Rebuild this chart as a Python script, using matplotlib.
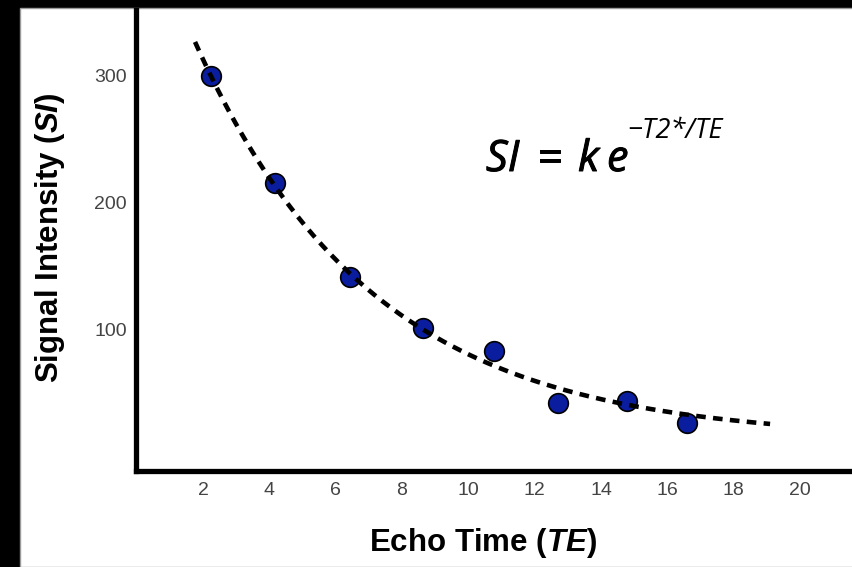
import numpy as np
import matplotlib
matplotlib.use("Agg")
import matplotlib.pyplot as plt
import matplotlib.patheffects as pe
from matplotlib.patches import Rectangle

plt.rcParams['font.family'] = ['Liberation Sans', 'DejaVu Sans']
plt.rcParams['mathtext.fontset'] = 'custom'
plt.rcParams['mathtext.it'] = 'Liberation Sans:italic:bold'
plt.rcParams['mathtext.rm'] = 'Liberation Sans:bold'

# measured echo times and signal intensities
echo_time = [2.24, 4.17, 6.44, 8.64, 10.78, 12.7, 14.8, 16.6]
signal = [299, 215, 141, 101, 83, 42, 43, 26]

# fitted decay curve parameters
k_fit = 435
tau_fit = 5.35
offset_fit = 13
curve_start, curve_end = 1.76, 19.1

x_ticks = [2, 4, 6, 8, 10, 12, 14, 16, 18, 20]
y_ticks = [100, 200, 300]

fig = plt.figure(figsize=(8.52, 5.67), dpi=100, facecolor='black')
# white card with black border at left / top
card = Rectangle((20 / 852, 0), 1, 1 - 8 / 567, transform=fig.transFigure,
                 facecolor='white', edgecolor='#9a9a9a', lw=1, zorder=-10)
fig.add_artist(card)

ax = fig.add_axes([136 / 852, 1 - 471 / 567, 1 - 136 / 852, (471 - 10) / 567])
ax.set_facecolor('none')
ax.set_zorder(1)

ax.scatter(echo_time, signal, s=200, color='#0a1d9e', edgecolor='black', linewidth=1.2, zorder=2)

xc = np.linspace(curve_start, curve_end, 200)
yc = k_fit * np.exp(-xc / tau_fit) + offset_fit
ax.plot(xc, yc, color='black', lw=3.3, dashes=(2.1, 1.6), dash_capstyle='butt', zorder=3)

ax.set_xlim(-0.02, 21.57)
ax.set_ylim(-11.8, 351.2)
ax.set_xticks(x_ticks)
ax.set_yticks(y_ticks)
ax.tick_params(length=0, labelsize=14, labelcolor='#444444')
ax.tick_params(axis='y', pad=6.5)
ax.tick_params(axis='x', pad=8)

for s in ['top', 'right']:
    ax.spines[s].set_visible(False)
for s in ['left', 'bottom']:
    ax.spines[s].set_linewidth(3.8)
    ax.spines[s].set_color('black')
    ax.spines[s].set_capstyle('projecting')

fig.text(50 / 852, 1 - 238 / 567, r'Signal Intensity ($\mathit{SI}$)', rotation=90,
         ha='center', va='center', fontsize=22.5, fontweight='bold')
fig.text(483 / 852, 1 - 543 / 567, r'Echo Time ($\mathit{TE}$)',
         ha='center', va='center', fontsize=22.5, fontweight='bold')

# equation, placed piece by piece (slight stroke on the base to get a medium weight)
eq_font = dict(family='Open Sans', style='italic', color='black', ha='left', va='baseline')
base_y = 1 - 171 / 567
for txt, px in [('SI', 486), ('=', 537), ('k', 578), ('e', 607)]:
    fig.text(px / 852, base_y, txt, fontsize=31,
             path_effects=[pe.withStroke(linewidth=0.7, foreground='black')], **eq_font)
fig.text(627 / 852, 1 - 138 / 567, '\u2212T2*/TE', fontsize=19.5, **eq_font)

fig.savefig('out.png', dpi=100, facecolor=fig.get_facecolor())
